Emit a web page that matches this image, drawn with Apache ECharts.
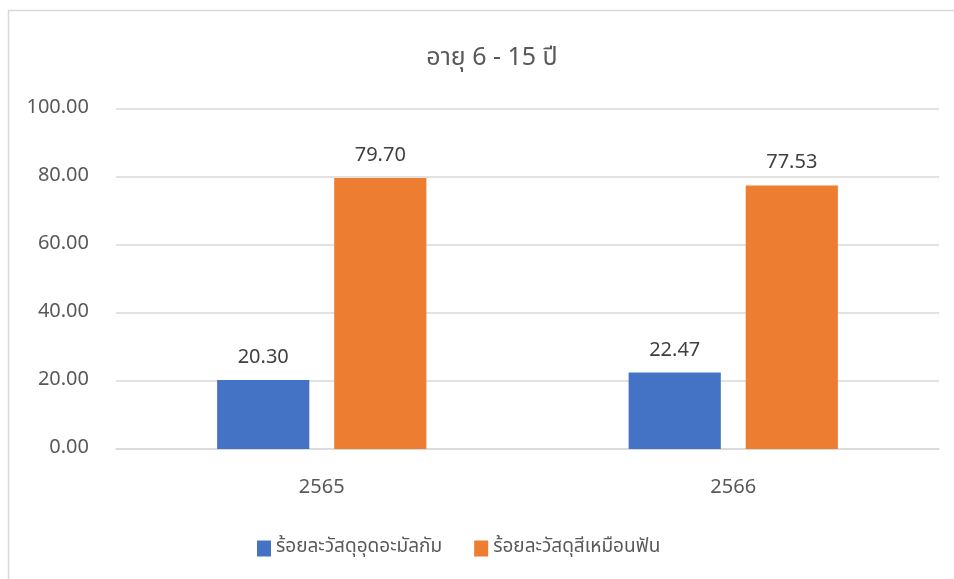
<!DOCTYPE html>
<html><head><meta charset="utf-8">
<script src="https://cdn.jsdelivr.net/npm/echarts@6/dist/echarts.min.js"></script>
<style>html,body{margin:0;padding:0;background:#fff}#c{width:954px;height:579px}</style>
</head><body><div id="c"></div>
<script>
const categories = ['2565', '2566'];
const seriesNames = ['ร้อยละวัสดุอุดอะมัลกัม', 'ร้อยละวัสดุสีเหมือนฟัน'];
const amalgam = [20.30, 22.47];
const toothColored = [79.70, 77.53];
const titleText = 'อายุ 6 - 15 ปี';

const FONT = '"Noto Sans Thai","Leelawadee UI","Tahoma","Noto Sans","DejaVu Sans",sans-serif';
const chart = echarts.init(document.getElementById('c'));
const lbl = {show:true, position:'top', distance:11, color:'#404040', fontSize:20, fontFamily:FONT,
  formatter: p => p.value.toFixed(2)};
chart.setOption({
  animation:false,
  graphic:[{type:'rect', shape:{x:8.5,y:10.5,width:2000,height:2000}, style:{fill:'none',stroke:'#d9d9d9',lineWidth:1.5}, silent:true}],
  title:{text:titleText, left:487, top:42, textAlign:'center', textStyle:{fontSize:25, fontWeight:'normal', color:'#595959', fontFamily:FONT}},
  grid:{left:116, right:15, top:109, bottom:130},
  legend:{data:seriesNames, bottom:16, left:252, itemWidth:14, itemHeight:16, itemGap:32, icon:'rect',
    textStyle:{fontSize:19, color:'#595959', fontFamily:FONT}},
  xAxis:{type:'category', data:categories, axisTick:{show:false},
    axisLine:{lineStyle:{color:'#d9d9d9', width:1.5}},
    axisLabel:{fontSize:20, color:'#595959', margin:30, fontFamily:FONT}},
  yAxis:{type:'value', min:0, max:100, interval:20,
    axisLine:{show:false}, axisTick:{show:false},
    splitLine:{lineStyle:{color:'#d9d9d9', width:1.5}},
    axisLabel:{fontSize:20, color:'#595959', margin:27, fontFamily:FONT, formatter:v=>v.toFixed(2)}},
  series:[
    {name:seriesNames[0], type:'bar', data:amalgam, barWidth:'22.4%', barGap:'27%', itemStyle:{color:'#4472C4'}, label:lbl},
    {name:seriesNames[1], type:'bar', data:toothColored, barWidth:'22.4%', itemStyle:{color:'#ED7D31'}, label:lbl}
  ]
});
</script></body></html>
